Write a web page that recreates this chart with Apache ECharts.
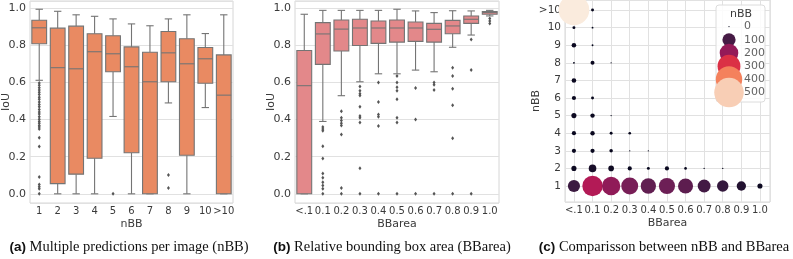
<!DOCTYPE html>
<html>
<head>
<meta charset="utf-8">
<script src="https://cdn.jsdelivr.net/npm/echarts@6/dist/echarts.min.js"></script>
<style>
  html, body { margin: 0; padding: 0; background: #fff; }
  #chart { width: 793px; height: 259px; }
</style>
</head>
<body>
<div id="chart"></div>
<script>
// (a) IoU per number of predicted boxes
const nbbCats = ['1', '2', '3', '4', '5', '6', '7', '8', '9', '10', '>10']
// [lower whisker, Q1, median, Q3, upper whisker]
const nbbStats = [
  [0.612, 0.809, 0.895, 0.936, 0.995],
  [0, 0.055, 0.68, 0.893, 0.984],
  [0, 0.106, 0.674, 0.904, 0.965],
  [0, 0.192, 0.766, 0.863, 0.957],
  [0.417, 0.658, 0.755, 0.852, 0.943],
  [0, 0.221, 0.685, 0.792, 0.916],
  [0, 0, 0.604, 0.763, 0.906],
  [0.49, 0.604, 0.76, 0.875, 0.943],
  [0, 0.208, 0.701, 0.836, 0.965],
  [0.465, 0.596, 0.728, 0.789, 0.864],
  [0, 0, 0.532, 0.749, 0.965]
]
const nbbOutliers = [
  [0, 0.598], [0, 0.585], [0, 0.572], [0, 0.56], [0, 0.548], [0, 0.535], [0, 0.521],
  [0, 0.51], [0, 0.495], [0, 0.482], [0, 0.47], [0, 0.455], [0, 0.441], [0, 0.43],
  [0, 0.415], [0, 0.402], [0, 0.39], [0, 0.38], [0, 0.368], [0, 0.36], [0, 0.35],
  [0, 0.302], [0, 0.255], [0, 0.09], [0, 0.05], [0, 0.038], [0, 0.027], [0, 0],
  [4, 0],
  [7, 0.102], [7, 0.032]
]

// (b) IoU per relative bounding box area
const areaCats = ['<.1', '0.1', '0.2', '0.3', '0.4', '0.5', '0.6', '0.7', '0.8', '0.9', '1.0']
const areaStats = [
  [0, 0, 0.583, 0.773, 0.968],
  [0.39, 0.698, 0.862, 0.923, 0.989],
  [0.529, 0.77, 0.888, 0.937, 0.989],
  [0.604, 0.8, 0.894, 0.941, 0.989],
  [0.647, 0.811, 0.894, 0.932, 0.989],
  [0.647, 0.818, 0.894, 0.937, 0.995],
  [0.667, 0.822, 0.894, 0.926, 0.986],
  [0.658, 0.818, 0.887, 0.919, 0.977],
  [0.79, 0.863, 0.905, 0.935, 0.987],
  [0.856, 0.919, 0.941, 0.959, 0.986],
  [0.959, 0.968, 0.977, 0.982, 0.989]
]
const areaOutliers = [
  [1, 0.36], [1, 0.35], [1, 0.34], [1, 0.257], [1, 0.19], [1, 0.109], [1, 0.086],
  [1, 0.063], [1, 0.045], [1, 0.027], [1, 0],
  [2, 0.445], [2, 0.41], [2, 0.395], [2, 0.38], [2, 0.368], [2, 0.32], [2, 0.032], [2, 0],
  [3, 0.578], [3, 0.555], [3, 0.54], [3, 0.53], [3, 0.47], [3, 0.42], [3, 0.41],
  [3, 0.385], [3, 0.138], [3, 0],
  [4, 0.6], [4, 0.495], [4, 0.428], [4, 0.415], [4, 0.365], [4, 0],
  [5, 0.635], [5, 0.6], [5, 0.575], [5, 0.555], [5, 0.51], [5, 0.41], [5, 0.385], [5, 0],
  [6, 0.57], [6, 0.4], [6, 0],
  [7, 0.6], [7, 0.588], [7, 0.56], [7, 0],
  [8, 0.68], [8, 0.635], [8, 0.567], [8, 0.478], [8, 0.3], [8, 0],
  [9, 0.832], [9, 0.668], [9, 0],
  [10, 0.945], [10, 0.932], [10, 0.918]
]

// (c) number of images per nBB row (1 .. >10) and BBarea column (<.1 .. 1.0)
const bubbleRows = ['1', '2', '3', '4', '5', '6', '7', '8', '9', '10', '>10']
const bubbleCounts = [
  [85, 240, 195, 165, 135, 150, 130, 95, 75, 50, 15],
  [15, 33, 18, 10, 5, 10, 4, 1, 1, 0, 0],
  [10, 10, 7, 1, 1, 0, 0, 0, 0, 0, 0],
  [10, 11, 5, 4, 0, 0, 0, 0, 0, 0, 0],
  [15, 11, 1, 0, 0, 0, 0, 0, 0, 0, 0],
  [10, 5, 0, 0, 0, 0, 0, 0, 0, 0, 0],
  [12, 0, 0, 0, 0, 0, 0, 0, 0, 0, 0],
  [2, 9, 1, 0, 0, 0, 0, 0, 0, 0, 0],
  [12, 2, 0, 0, 0, 0, 0, 0, 0, 0, 0],
  [5, 2, 0, 0, 0, 0, 0, 0, 0, 0, 0],
  [540, 5, 0, 0, 0, 0, 0, 0, 0, 0, 0]
]
const legendSizes = [0, 100, 200, 300, 400, 500]

const rocket = ['#03051a', '#35193e', '#701f57', '#ad1759', '#e13342', '#f37651', '#f6b48f', '#faebdd']
const edge = '#747474'
const txt = '#3a3a3a'
const gridCol = '#e1e1e1'
const font = 'DejaVu Sans'

function bubbleSize(n) {
  return Math.max(1.2, 1.32 * Math.sqrt(n))
}

function boxRenderer(fill) {
  return function (params, api) {
    const x = api.value(0)
    const lo = api.coord([x, api.value(1)])
    const q1 = api.coord([x, api.value(2)])
    const md = api.coord([x, api.value(3)])
    const q3 = api.coord([x, api.value(4)])
    const hi = api.coord([x, api.value(5)])
    const w = api.size([1, 0])[0] * 0.8
    const cx = lo[0]
    const ln = { stroke: edge, lineWidth: 1.1 }
    return {
      type: 'group',
      children: [
        { type: 'line', shape: { x1: cx, y1: q3[1], x2: cx, y2: hi[1] }, style: ln },
        { type: 'line', shape: { x1: cx, y1: q1[1], x2: cx, y2: lo[1] }, style: ln },
        { type: 'line', shape: { x1: cx - w / 4, y1: hi[1], x2: cx + w / 4, y2: hi[1] }, style: ln },
        { type: 'line', shape: { x1: cx - w / 4, y1: lo[1], x2: cx + w / 4, y2: lo[1] }, style: ln },
        {
          type: 'rect',
          shape: { x: cx - w / 2, y: q3[1], width: w, height: q1[1] - q3[1] },
          style: { fill: fill, stroke: edge, lineWidth: 1.1 }
        },
        { type: 'line', shape: { x1: cx - w / 2, y1: md[1], x2: cx + w / 2, y2: md[1] }, style: ln }
      ]
    }
  }
}

const nameStyle = { color: txt, fontSize: 11, fontFamily: font }

function iouAxis(gridIndex) {
  return {
    type: 'value',
    gridIndex: gridIndex,
    min: -0.0495,
    max: 1.0395,
    splitNumber: 5,
    name: 'IoU',
    nameLocation: 'middle',
    nameGap: 18,
    nameMoveOverlap: false,
    nameTextStyle: nameStyle,
    axisLine: { show: false },
    axisTick: { show: false },
    axisLabel: {
      color: txt,
      fontSize: 11,
      fontFamily: font,
      margin: 4,
      formatter: v => (Math.abs(v * 5 - Math.round(v * 5)) < 1e-6 ? v.toFixed(1) : '')
    },
    splitLine: { lineStyle: { color: gridCol, width: 1 } }
  }
}

function catAxis(gridIndex, cats, name) {
  return {
    type: 'category',
    gridIndex: gridIndex,
    data: cats,
    name: name,
    nameLocation: 'middle',
    nameGap: 16,
    nameMoveOverlap: false,
    nameTextStyle: nameStyle,
    axisLine: { show: false },
    axisTick: { show: false },
    axisLabel: { color: txt, fontSize: 10, fontFamily: font, margin: 3, interval: 0 },
    splitLine: { show: false }
  }
}

const bubbleData = []
bubbleCounts.forEach((row, r) => {
  row.forEach((n, c) => {
    if (n > 0) bubbleData.push([c, r + 1, n])
  })
})
const legendData = legendSizes.map((n, i) => [0, i, n])

function caption(x, tag, text) {
  return {
    type: 'text',
    x: x,
    y: 247,
    style: {
      text: '{b|' + tag + '} ' + text,
      align: 'center',
      verticalAlign: 'middle',
      fill: '#111',
      font: '14.5px "Liberation Serif"',
      rich: { b: { fontFamily: 'Liberation Sans', fontWeight: 'bold', fontSize: 13.5, fill: '#111' } }
    }
  }
}

const chart = echarts.init(document.getElementById('chart'), null, { renderer: 'canvas' })
chart.setOption({
  animation: false,
  backgroundColor: '#fff',
  grid: [
    { left: 29, top: 1, width: 204, height: 202, show: true, borderColor: '#d6d6d6', borderWidth: 1 },
    { left: 295, top: 1, width: 204, height: 202, show: true, borderColor: '#d6d6d6', borderWidth: 1 },
    { left: 565, top: 0, width: 205, height: 202, show: true, borderColor: '#d6d6d6', borderWidth: 1 },
    { left: 719, top: 20, width: 20, height: 79.2 }
  ],
  xAxis: [
    catAxis(0, nbbCats, 'nBB'),
    catAxis(1, areaCats, 'BBarea'),
    {
      type: 'value',
      gridIndex: 2,
      min: -0.48,
      max: 10.54,
      splitNumber: 11,
      name: 'BBarea',
      nameLocation: 'middle',
      nameGap: 16,
      nameMoveOverlap: false,
      nameTextStyle: nameStyle,
      axisLine: { show: false },
      axisTick: { show: false },
      axisLabel: {
        color: txt,
        fontSize: 10,
        fontFamily: font,
        margin: 3,
        formatter: v => (Math.abs(v - Math.round(v)) < 1e-6 ? areaCats[Math.round(v)] || '' : '')
      },
      splitLine: { lineStyle: { color: gridCol, width: 1 } }
    },
    { type: 'category', gridIndex: 3, data: ['s'], show: false }
  ],
  yAxis: [
    iouAxis(0),
    iouAxis(1),
    {
      type: 'value',
      gridIndex: 2,
      min: 0.09,
      max: 11.57,
      splitNumber: 11,
      name: 'nBB',
      nameLocation: 'middle',
      nameGap: 23,
      nameMoveOverlap: false,
      nameTextStyle: nameStyle,
      axisLine: { show: false },
      axisTick: { show: false },
      axisLabel: {
        color: txt,
        fontSize: 10.5,
        fontFamily: font,
        margin: 4,
        formatter: v => (Math.abs(v - Math.round(v)) < 1e-6 ? bubbleRows[Math.round(v) - 1] || '' : '')
      },
      splitLine: { lineStyle: { color: gridCol, width: 1 } }
    },
    {
      type: 'category',
      gridIndex: 3,
      data: legendSizes.map(String),
      inverse: true,
      show: false
    }
  ],
  visualMap: {
    show: false,
    type: 'continuous',
    min: 0,
    max: 540,
    dimension: 2,
    seriesIndex: [4, 5],
    inRange: { color: rocket }
  },
  graphic: [
    {
      type: 'rect',
      z: 1,
      shape: { x: 716, y: 5, width: 49, height: 97, r: 3 },
      style: { fill: 'rgba(255,255,255,0.85)', stroke: '#dcdcdc', lineWidth: 1 }
    },
    {
      type: 'text',
      z: 3,
      x: 741,
      y: 14,
      style: { text: 'nBB', align: 'center', verticalAlign: 'middle', fill: txt, font: '11px "DejaVu Sans"' }
    },
    caption(129, '(a)', 'Multiple predictions per image (nBB)'),
    caption(392, '(b)', 'Relative bounding box area (BBarea)'),
    caption(664, '(c)', 'Comparisson between nBB and BBarea')
  ],
  series: [
    {
      type: 'custom',
      xAxisIndex: 0,
      yAxisIndex: 0,
      renderItem: boxRenderer('#e98a62'),
      encode: { x: 0, y: [1, 2, 3, 4, 5] },
      data: nbbStats.map((s, i) => [i].concat(s))
    },
    {
      type: 'scatter',
      xAxisIndex: 0,
      yAxisIndex: 0,
      symbol: 'diamond',
      symbolSize: [3, 4],
      itemStyle: { color: '#555', opacity: 1 },
      data: nbbOutliers
    },
    {
      type: 'custom',
      xAxisIndex: 1,
      yAxisIndex: 1,
      renderItem: boxRenderer('#e3888a'),
      encode: { x: 0, y: [1, 2, 3, 4, 5] },
      data: areaStats.map((s, i) => [i].concat(s))
    },
    {
      type: 'scatter',
      xAxisIndex: 1,
      yAxisIndex: 1,
      symbol: 'diamond',
      symbolSize: [3, 4],
      itemStyle: { color: '#555', opacity: 1 },
      data: areaOutliers
    },
    {
      type: 'scatter',
      xAxisIndex: 2,
      yAxisIndex: 2,
      clip: false,
      symbolSize: v => bubbleSize(v[2]),
      itemStyle: { opacity: 1 },
      data: bubbleData
    },
    {
      type: 'scatter',
      xAxisIndex: 3,
      yAxisIndex: 3,
      z: 4,
      symbolSize: v => bubbleSize(v[2]),
      itemStyle: { opacity: 1 },
      data: legendData
    },
    {
      type: 'scatter',
      xAxisIndex: 3,
      yAxisIndex: 3,
      z: 4,
      symbolSize: 0.1,
      itemStyle: { color: 'rgba(0,0,0,0)' },
      label: {
        show: true,
        position: 'right',
        distance: 15,
        color: txt,
        fontSize: 11,
        fontFamily: font,
        formatter: p => String(p.value[2])
      },
      data: legendData
    }
  ]
})
</script>
</body>
</html>
